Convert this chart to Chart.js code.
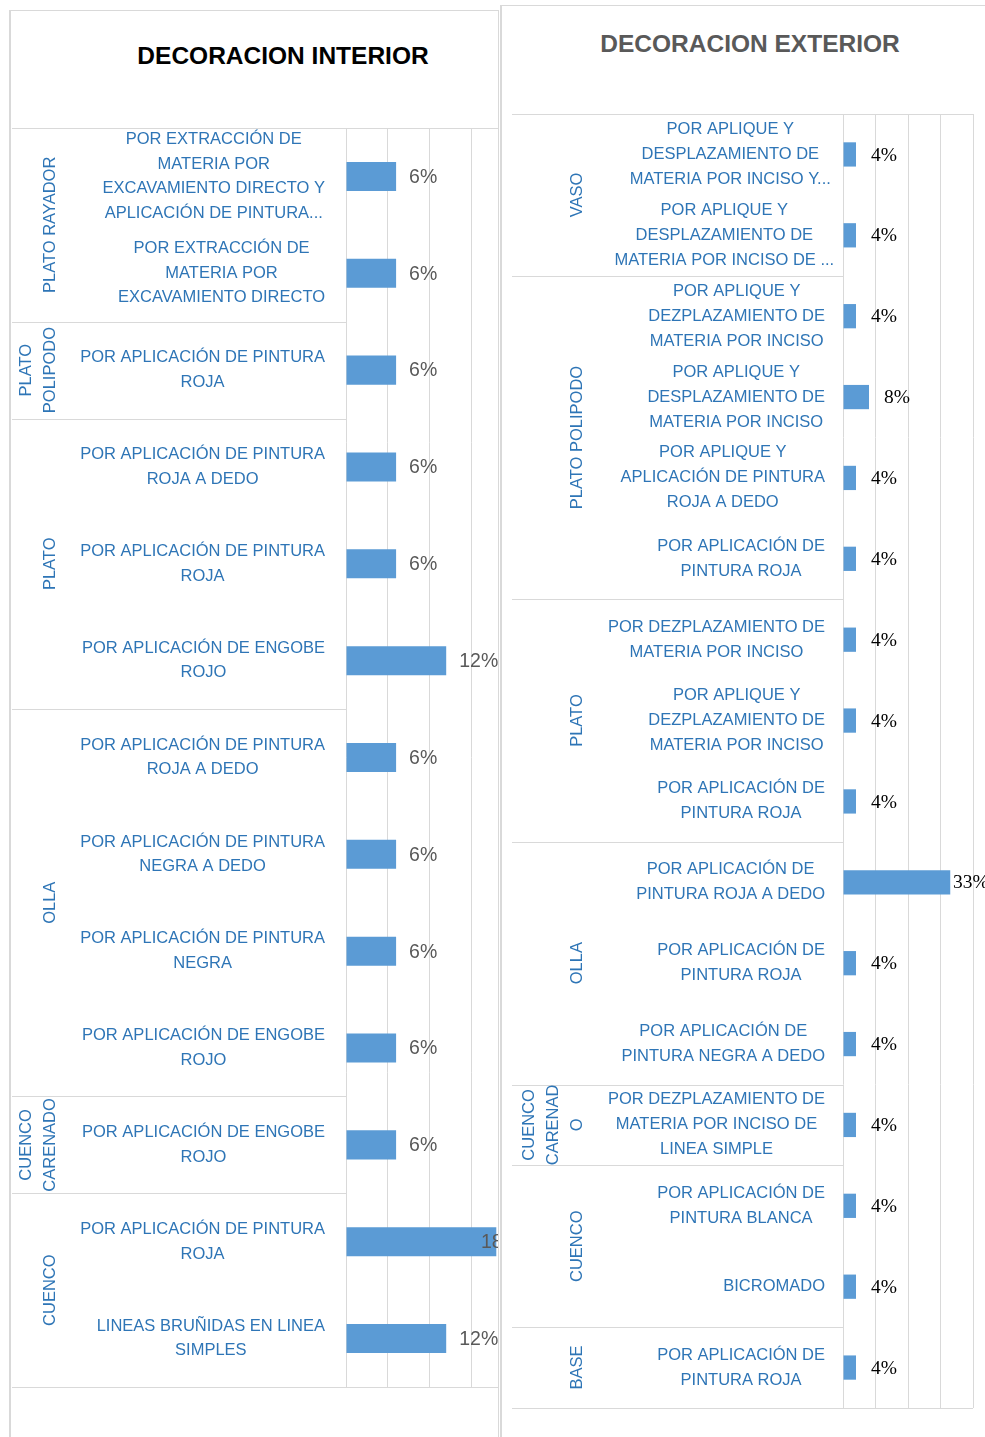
<!DOCTYPE html>
<html>
<head>
<meta charset="utf-8">
<script src="https://cdn.jsdelivr.net/npm/chart.js@4"></script>
<style>
  html, body { margin:0; padding:0; background:#fff; }
  body { width:985px; height:1437px; position:relative; overflow:hidden; }
  .panel { position:absolute; background:#fff; overflow:hidden; }
  .title { position:absolute; width:400px; text-align:center; font-family:"Liberation Sans", Arial, sans-serif; font-weight:bold; font-size:24.5px; line-height:30px; white-space:nowrap; }
  canvas { position:absolute; }
</style>
</head>
<body>
<div class="panel" id="lp" style="left:9px; top:10px; width:487px; height:1440px; border-left:2px solid #d9d9d9; border-top:1px solid #d9d9d9; border-right:1px solid #d9d9d9;">
  <div class="title" style="left:72px; top:30px; color:#000;">DECORACION INTERIOR</div>
  <canvas id="cInt" width="501" height="1280" style="left:1px; top:107px;"></canvas>
</div>
<div class="panel" id="rp" style="left:500px; top:5px; width:490px; height:1440px; border-left:2px solid #d9d9d9; border-top:1px solid #d9d9d9;">
  <div class="title" style="left:48px; top:23px; color:#595959;">DECORACION EXTERIOR</div>
  <canvas id="cExt" width="473" height="1314" style="left:10px; top:98px;"></canvas>
</div>
<script>
// ---------------- DATA ----------------
const interiorGroups = ['PLATO RAYADOR', 'PLATO|POLIPODO', 'PLATO', 'OLLA', 'CUENCO|CARENADO', 'CUENCO'];
const interiorGroupSizes = [2, 1, 3, 4, 1, 2];
const interiorLabels = [
  ['POR EXTRACCIÓN DE', 'MATERIA POR', 'EXCAVAMIENTO DIRECTO Y', 'APLICACIÓN DE PINTURA...'],
  ['POR EXTRACCIÓN DE', 'MATERIA POR', 'EXCAVAMIENTO DIRECTO'],
  ['POR APLICACIÓN DE PINTURA', 'ROJA'],
  ['POR APLICACIÓN DE PINTURA', 'ROJA A DEDO'],
  ['POR APLICACIÓN DE PINTURA', 'ROJA'],
  ['POR APLICACIÓN DE ENGOBE', 'ROJO'],
  ['POR APLICACIÓN DE PINTURA', 'ROJA A DEDO'],
  ['POR APLICACIÓN DE PINTURA', 'NEGRA A DEDO'],
  ['POR APLICACIÓN DE PINTURA', 'NEGRA'],
  ['POR APLICACIÓN DE ENGOBE', 'ROJO'],
  ['POR APLICACIÓN DE ENGOBE', 'ROJO'],
  ['POR APLICACIÓN DE PINTURA', 'ROJA'],
  ['LINEAS BRUÑIDAS EN LINEA', 'SIMPLES']
];
const interiorValues = [6, 6, 6, 6, 6, 12, 6, 6, 6, 6, 6, 18, 12];
const interiorTicks = [0, 5, 10, 15, 20];

const exteriorGroups = ['VASO', 'PLATO POLIPODO', 'PLATO', 'OLLA', 'CUENCO|CARENAD|O', 'CUENCO', 'BASE'];
const exteriorGroupSizes = [2, 4, 3, 3, 1, 2, 1];
const exteriorLabels = [
  ['POR APLIQUE Y', 'DESPLAZAMIENTO DE', 'MATERIA POR INCISO Y...'],
  ['POR APLIQUE Y', 'DESPLAZAMIENTO DE', 'MATERIA POR INCISO DE ...'],
  ['POR APLIQUE Y', 'DEZPLAZAMIENTO DE', 'MATERIA POR INCISO'],
  ['POR APLIQUE Y', 'DESPLAZAMIENTO DE', 'MATERIA POR INCISO'],
  ['POR APLIQUE Y', 'APLICACIÓN DE PINTURA', 'ROJA A DEDO'],
  ['POR APLICACIÓN DE', 'PINTURA ROJA'],
  ['POR DEZPLAZAMIENTO DE', 'MATERIA POR INCISO'],
  ['POR APLIQUE Y', 'DEZPLAZAMIENTO DE', 'MATERIA POR INCISO'],
  ['POR APLICACIÓN DE', 'PINTURA ROJA'],
  ['POR APLICACIÓN DE', 'PINTURA ROJA A DEDO'],
  ['POR APLICACIÓN DE', 'PINTURA ROJA'],
  ['POR APLICACIÓN DE', 'PINTURA NEGRA A DEDO'],
  ['POR DEZPLAZAMIENTO DE', 'MATERIA POR INCISO DE', 'LINEA SIMPLE'],
  ['POR APLICACIÓN DE', 'PINTURA BLANCA'],
  ['BICROMADO'],
  ['POR APLICACIÓN DE', 'PINTURA ROJA']
];
const exteriorValues = [4, 4, 4, 8, 4, 4, 4, 4, 4, 33, 4, 4, 4, 4, 4, 4];
const exteriorTicks = [0, 10, 20, 30, 40];

// ---------------- DRAWING ----------------
const BLUE = '#2E75B6';
const GRID = '#d9d9d9';
const BAR = '#5B9BD5';

const groupPlugin = {
  id: 'groupLabels',
  afterDraw(chart, args, o) {
    const ctx = chart.ctx;
    const ys = chart.scales.y;
    const area = chart.chartArea;
    const half = (ys.getPixelForValue(1) - ys.getPixelForValue(0)) / 2;
    const px = v => Math.round(v) + 0.5;
    ctx.save();
    ctx.strokeStyle = GRID;
    ctx.lineWidth = 1;
    // top and bottom frame lines
    ctx.beginPath();
    ctx.moveTo(0, px(area.top)); ctx.lineTo(area.right, px(area.top));
    ctx.moveTo(0, px(area.bottom)); ctx.lineTo(area.right, px(area.bottom));
    ctx.stroke();

    // category labels
    ctx.font = o.labelFont;
    ctx.fillStyle = BLUE;
    ctx.textBaseline = 'middle';
    ctx.textAlign = 'center';
    chart.data.labels.forEach((lines, i) => {
      const yc = ys.getPixelForValue(i);
      const w = Math.max(...lines.map(l => ctx.measureText(l.replace(/\s*\.\.\.$/, '')).width));
      const cx = o.labelRight - w / 2;
      lines.forEach((l, k) => {
        ctx.fillText(l, cx, yc + (k - (lines.length - 1) / 2) * o.lineHeight);
      });
    });

    // groups
    let start = 0;
    o.groups.forEach((g, gi) => {
      const end = start + o.sizes[gi];
      const y0 = ys.getPixelForValue(start) - half;
      const y1 = ys.getPixelForValue(end - 1) + half;
      if (gi > 0) {
        ctx.beginPath();
        ctx.moveTo(0, px(y0)); ctx.lineTo(area.left, px(y0));
        ctx.stroke();
      }
      const parts = g.split('|');
      const yc = (y0 + y1) / 2;
      parts.forEach((p, k) => {
        const x = o.groupX - (parts.length - 1 - k) * o.groupSpacing;
        ctx.save();
        ctx.translate(x, yc);
        ctx.rotate(-Math.PI / 2);
        ctx.fillText(p, 0, 0);
        ctx.restore();
      });
      start = end;
    });

    // data labels
    const meta = chart.getDatasetMeta(0);
    const vals = chart.data.datasets[0].data;
    ctx.font = o.valueFont;
    ctx.fillStyle = o.valueColor;
    ctx.textAlign = 'left';
    meta.data.forEach((bar, i) => {
      const x = Math.min(bar.x + o.valueOffset, o.valueMaxX);
      ctx.fillText(vals[i] + '%', x, bar.y + 1);
    });
    ctx.restore();
  }
};

function makeChart(id, labels, values, ticks, axisWidth, padding, opts) {
  return new Chart(document.getElementById(id), {
    type: 'bar',
    data: {
      labels: labels,
      datasets: [{
        data: values,
        backgroundColor: BAR,
        borderWidth: 0,
        barPercentage: 0.3,
        categoryPercentage: 1.0
      }]
    },
    options: {
      indexAxis: 'y',
      responsive: false,
      maintainAspectRatio: false,
      animation: false,
      devicePixelRatio: 1,
      layout: { padding: padding },
      plugins: {
        legend: { display: false },
        tooltip: { enabled: false },
        title: { display: false },
        groupLabels: opts
      },
      scales: {
        x: {
          type: 'linear',
          position: 'bottom',
          min: ticks[0],
          max: ticks[ticks.length - 1],
          afterBuildTicks(s) { s.ticks = ticks.map(v => ({ value: v })); },
          ticks: { display: false },
          grid: { color: GRID, lineWidth: 1, drawTicks: false },
          border: { display: false },
          afterFit(s) { s.height = 0; }
        },
        y: {
          type: 'category',
          ticks: { display: false },
          grid: { display: false },
          border: { display: false },
          afterFit(s) { s.width = axisWidth; }
        }
      }
    },
    plugins: [groupPlugin]
  });
}

makeChart('cInt', interiorLabels, interiorValues, interiorTicks, 334,
  { top: 10, bottom: 11, left: 0, right: 0 },
  {
    groups: interiorGroups, sizes: interiorGroupSizes,
    labelFont: '16.5px "Liberation Sans", Arial, sans-serif',
    labelRight: 313, lineHeight: 24.5,
    groupX: 38, groupSpacing: 24,
    valueFont: '19.5px "Liberation Sans", Arial, sans-serif',
    valueColor: '#595959', valueOffset: 13, valueMaxX: 469
  });

makeChart('cExt', exteriorLabels, exteriorValues, exteriorTicks, 331,
  { top: 10, bottom: 10, left: 0, right: 12 },
  {
    groups: exteriorGroups, sizes: exteriorGroupSizes,
    labelFont: '16.5px "Liberation Sans", Arial, sans-serif',
    labelRight: 313, lineHeight: 25,
    groupX: 65, groupSpacing: 24,
    valueFont: '19.5px "Liberation Serif", "Times New Roman", serif',
    valueColor: '#000000', valueOffset: 15, valueMaxX: 441
  });
</script>
</body>
</html>
